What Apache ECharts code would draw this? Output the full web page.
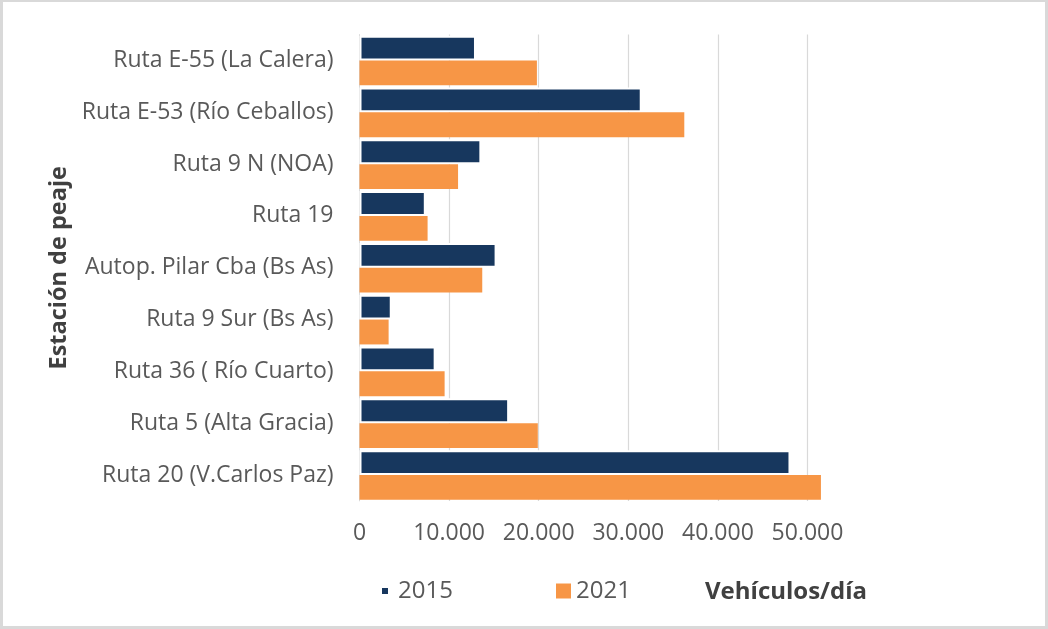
<!DOCTYPE html>
<html>
<head>
<meta charset="utf-8">
<script src="https://cdn.jsdelivr.net/npm/echarts@6/dist/echarts.min.js"></script>
<style>
html,body{margin:0;padding:0;background:#fff;}
#chart{position:absolute;left:0;top:0;width:1048px;height:629px;}
#frame{position:absolute;left:0;top:0;width:1048px;height:629px;box-sizing:border-box;border-style:solid;border-color:#d9d9d9;border-width:2px 3px 3px 3px;pointer-events:none;}
</style>
</head>
<body>
<div id="chart"></div>
<div id="frame"></div>
<script>
const categories = [
  'Ruta E-55 (La Calera)',
  'Ruta E-53 (Río Ceballos)',
  'Ruta 9 N (NOA)',
  'Ruta 19',
  'Autop. Pilar Cba (Bs As)',
  'Ruta 9 Sur (Bs As)',
  'Ruta 36 ( Río Cuarto)',
  'Ruta 5 (Alta Gracia)',
  'Ruta 20 (V.Carlos Paz)'
];
const values2015 = [13000, 31500, 13600, 7400, 15300, 3600, 8500, 16700, 48100];
const values2021 = [19800, 36250, 11000, 7600, 13700, 3250, 9500, 19900, 51500];
const seriesNames = ['2015', '2021'];
const xTicks = [0, 10000, 20000, 30000, 40000, 50000];

const FONT = '"Open Sans", sans-serif';
const TXT = '#595959';
const NAVY = '#17375e';
const ORANGE = '#f79646';

const chart = echarts.init(document.getElementById('chart'));
chart.setOption({
  animation: false,
  textStyle: { fontFamily: FONT },
  grid: { left: 359.5, top: 34.6, width: 492.8, height: 466.3, containLabel: false },
  legend: [
    {
      data: [seriesNames[0]], left: 375, top: 574, itemWidth: 8, itemHeight: 8,
      icon: 'rect', textStyle: { fontSize: 24, color: TXT, fontFamily: FONT, padding: [0, 0, 0, 4] }
    },
    {
      data: [seriesNames[1]], left: 551, top: 574, itemWidth: 15, itemHeight: 15,
      icon: 'rect', textStyle: { fontSize: 24, color: TXT, fontFamily: FONT, padding: [0, 0, 0, 0] }
    }
  ],
  graphic: [
    { type: 'text', left: 705, top: 580, style: { text: 'Vehículos/día', fontSize: 24, fontWeight: 'bold', fill: '#404040', fontFamily: FONT } }
  ],
  xAxis: {
    type: 'value', min: 0, max: 55000, interval: 10000,
    axisLine: { show: false }, axisTick: { show: false },
    splitLine: { show: true, showMinLine: false, showMaxLine: false, lineStyle: { color: '#d9d9d9', width: 1.2 } },
    axisLabel: {
      fontSize: 23, color: TXT, margin: 21, fontFamily: FONT, showMaxLabel: false,
      formatter: function (v) { return xTicks.indexOf(v) >= 0 ? v.toLocaleString('de-DE') : ''; }
    }
  },
  yAxis: {
    type: 'category', data: categories, inverse: true,
    name: 'Estación de peaje', nameLocation: 'middle', nameGap: 288, nameRotate: 90,
    nameTextStyle: { fontSize: 23.5, fontWeight: 'bold', color: '#404040', fontFamily: FONT },
    axisLine: { show: true, lineStyle: { color: '#d9d9d9' } }, axisTick: { show: false },
    axisLabel: { fontSize: 23, color: TXT, margin: 26, fontFamily: FONT }
  },
  series: [
    {
      name: seriesNames[0], type: 'bar', data: values2015, barGap: '0%', barCategoryGap: '4%',
      itemStyle: { color: NAVY, borderColor: '#ffffff', borderWidth: 2 }
    },
    {
      name: seriesNames[1], type: 'bar', data: values2021, barGap: '0%', barCategoryGap: '4%',
      itemStyle: { color: ORANGE }
    }
  ]
});
</script>
</body>
</html>
